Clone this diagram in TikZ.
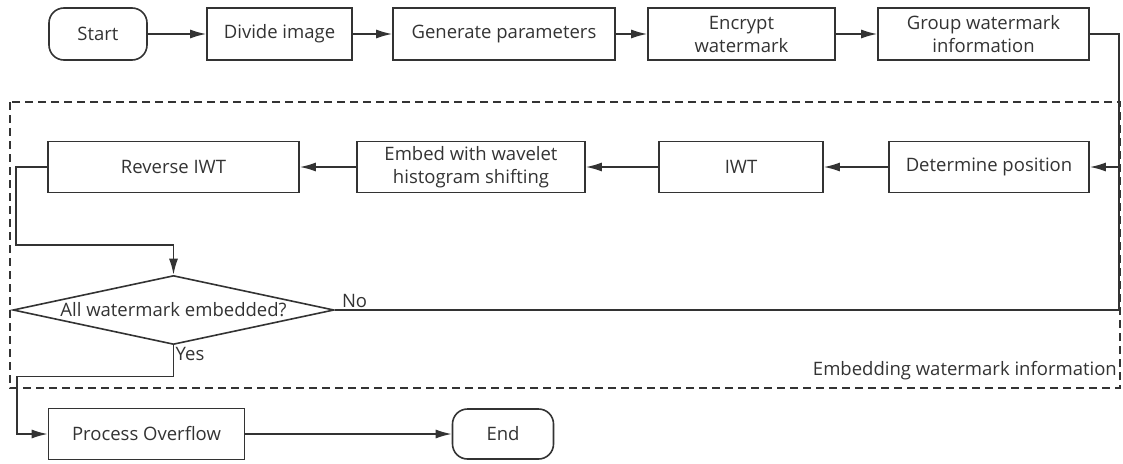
\documentclass[tikz,border=0pt]{standalone}
\usepackage{fontspec}
\setmainfont{Open Sans}
\usetikzlibrary{shapes.geometric, arrows, arrows.meta}
\definecolor{linegray}{HTML}{333333}
\tikzstyle{startstop} = [rectangle, rounded corners=15pt, minimum width=98pt, minimum height=52pt, text centered, draw=linegray, line width=1.6pt]
\tikzstyle{process} = [rectangle, minimum height=52pt, align=center, draw=linegray, line width=1.6pt]
\tikzstyle{decision} = [diamond, aspect=4.65, inner sep=0pt, minimum width=321pt, minimum height=69pt, draw=linegray, line width=1.6pt]
\tikzstyle{arrow} = [-{Latex[length=16pt, width=9pt]}, draw=linegray, line width=1.6pt]
\tikzstyle{line} = [draw=linegray, line width=1.6pt]

\begin{document}
\begin{tikzpicture}[node distance=181.5pt, font=\fontsize{18.5}{23}\selectfont, text=linegray]
				\useasboundingbox (0,0) rectangle (1123pt,-463pt);
				\node (start)[startstop] at (98pt,-34pt){Start};
				\node (divide)[process, minimum width=145pt, right of=start]{Divide image};
				\node (generate)[process, minimum width=222pt, node distance=224.5pt, right of=divide]{Generate parameters};
				\node (encrypt)[process, minimum width=187pt, node distance=237.5pt, right of=generate]{Encrypt\\watermark};
				\node (group)[process, minimum width=211pt, node distance=242pt, right of=encrypt]{Group watermark\\information};
				\node (determine)[process, minimum width=200pt, minimum height=51pt, node distance=133pt, below of=group, xshift=5.5pt]{Determine position};
				\node (iwt)[process, minimum width=164pt, minimum height=51pt, node distance=248pt, left of=determine]{IWT};
				\node (embed)[process, minimum width=228pt, minimum height=51pt, node distance=270pt, left of=iwt]{Embed with wavelet\\histogram shifting};
				\node (reverse)[process, minimum width=251pt, minimum height=51pt, node distance=297.5pt, left of=embed]{Reverse IWT};
				\node (check)[decision, node distance=143pt, below of=reverse]{All watermark embedded?};
				\node (overflow)[process, minimum width=196pt, minimum height=51pt, node distance=124pt, below of=check, xshift=-27pt]{Process Overflow};
				\node (end)[startstop, minimum width=101pt, minimum height=50pt, node distance=356.5pt, right of=overflow]{End};
				
				% dashed frame of the embedding loop
				\draw [line, dash pattern=on 8pt off 5pt, line width=1.3pt] (10pt,-102pt) rectangle (1120pt,-388pt);
				\node (framelabel)[anchor=base east, inner sep=0pt] at (1117pt,-375pt){Embedding watermark information};
				
				\draw [arrow] (start) -- (divide);
				\draw [arrow] (divide) -- (generate);
				\draw [arrow] (generate) -- (encrypt);
				\draw [arrow] (encrypt) -- (group);
				\coordinate (bend) at ([xshift=29pt]group.east);
				\draw [arrow] (group.east) -- (bend) |- (determine.east);
				\draw [arrow] (determine) -- (iwt);
				\draw [arrow] (iwt) -- (embed);
				\draw [arrow] (embed) -- (reverse);
				\draw [arrow] (reverse.west) -- ++(-31pt,0) |- ([yshift=30pt]check.north) -- (check.north);
				\draw [line] (check.east) -| (bend);
				\draw [arrow] (check.south) -- ++(0,-31pt) -| ([xshift=-31pt]overflow.west) -- (overflow.west);
				\draw [arrow] (overflow) -- (end);
				\node (no)[anchor=south west, inner sep=2pt] at ([xshift=5pt]check.east){No};
				\node (yes)[anchor=north west, inner sep=2pt] at (check.south){Yes};
			\end{tikzpicture}
\end{document}
